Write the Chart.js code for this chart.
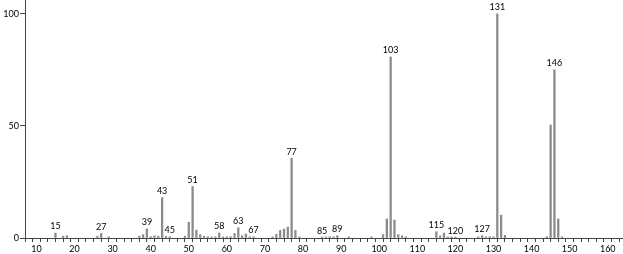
<!DOCTYPE html>
<html>
<head>
<meta charset="utf-8">
<script src="https://cdn.jsdelivr.net/npm/chart.js@4"></script>
<style>
  html, body { margin: 0; padding: 0; background: #fff; }
  #wrap { width: 623px; height: 254px; position: relative; }
</style>
</head>
<body>
<div id="wrap"><canvas id="ms"></canvas></div>
<script>
// m/z values and relative intensities
var masses = [15, 17, 18, 26, 27, 29, 37, 38, 39, 40, 41, 42, 43, 44, 45, 49, 50, 51, 52, 53,
  54, 55, 56, 57, 58, 59, 60, 61, 62, 63, 64, 65, 66, 67, 72, 73, 74, 75, 76, 77,
  78, 79, 85, 86, 87, 88, 89, 92, 98, 101, 102, 103, 104, 105, 106, 107, 115, 116, 117, 118,
  119, 120, 126, 127, 128, 129, 130, 131, 132, 133, 144, 145, 146, 147, 148]
var intensities = [2.2, 0.8, 1, 0.8, 2, 0.5, 0.8, 1.5, 4, 0.6, 1, 0.8, 18, 0.8, 0.6, 0.8, 7, 23, 3.5, 1.5,
  0.8, 0.5, 0.5, 0.5, 2.2, 0.5, 0.5, 0.6, 2, 4.6, 1, 1.8, 0.5, 0.5, 0.5, 1.6, 3.4, 4, 4.9, 35.6,
  3.4, 0.5, 0.4, 0.5, 0.5, 0.5, 1, 0.5, 0.5, 1.5, 8.5, 80.8, 8, 1.5, 1, 0.5, 2.8, 1, 2.2, 0.5,
  0.5, 0.4, 0.5, 1, 0.5, 0.5, 0.5, 100, 10.2, 1.2, 0.6, 50.4, 75, 8.5, 0.5]
// peaks that carry a label
var labelled = [15, 27, 39, 43, 45, 51, 58, 63, 67, 77, 85, 89, 103, 115, 120, 127, 131, 146]
var yTicks = [0, 50, 100]

var points = masses.map(function(m, i){ return {x: m, y: intensities[i]} })

var peakLabels = {
  id: 'peakLabels',
  afterDatasetsDraw: function(chart){
    var ctx = chart.ctx
    var xs = chart.scales.x, ys = chart.scales.y
    ctx.save()
    ctx.fillStyle = '#000'
    ctx.font = '9px Lato'
    ctx.textAlign = 'center'
    ctx.textBaseline = 'bottom'
    labelled.forEach(function(m){
      var i = masses.indexOf(m)
      var v = i >= 0 ? intensities[i] : 0
      ctx.fillText(String(m), xs.getPixelForValue(m), ys.getPixelForValue(v) - 2)
    })
    ctx.restore()
  }
}

function noPad(axis){
  axis.paddingTop = 0
  axis.paddingBottom = 0
  axis.paddingLeft = 0
  axis.paddingRight = 0
}

var ctx = document.getElementById('ms').getContext('2d')
var myChart = new Chart(ctx, {
  type: 'bar',
  plugins: [peakLabels],
  data: {
    datasets: [{
      data: points,
      backgroundColor: '#8a8a8a',
      borderWidth: 0,
      barThickness: 1.6,
      grouped: false
    }]
  },
  options: {
    responsive: true,
    maintainAspectRatio: false,
    animation: false,
    layout: { padding: 0 },
    scales: {
      x: {
        type: 'linear',
        min: 7,
        max: 164,
        offset: false,
        afterBuildTicks: function(axis){
          var t = []
          for (var v = 8; v <= 162; v += 2) t.push({value: v})
          axis.ticks = t
        },
        afterFit: function(axis){ axis.height = 16; noPad(axis) },
        border: { color: '#444', width: 1 },
        grid: { drawOnChartArea: false, tickLength: 4, color: '#444' },
        ticks: {
          autoSkip: false,
          maxRotation: 0,
          padding: 2,
          color: '#000',
          font: { family: 'Lato', size: 9 },
          callback: function(v){ return v % 10 === 0 ? String(v) : '' }
        }
      },
      y: {
        min: 0,
        max: 106.2,
        afterBuildTicks: function(axis){
          axis.ticks = yTicks.map(function(v){ return {value: v} })
        },
        afterFit: function(axis){ axis.width = 25; noPad(axis) },
        border: { color: '#444', width: 1 },
        grid: { drawOnChartArea: false, tickLength: 5, color: '#444' },
        ticks: {
          padding: 1,
          color: '#000',
          font: { family: 'Lato', size: 9 }
        }
      }
    },
    plugins: {
      legend: { display: false },
      title: { display: false },
      tooltip: { enabled: false }
    }
  }
})
</script>
</body>
</html>
